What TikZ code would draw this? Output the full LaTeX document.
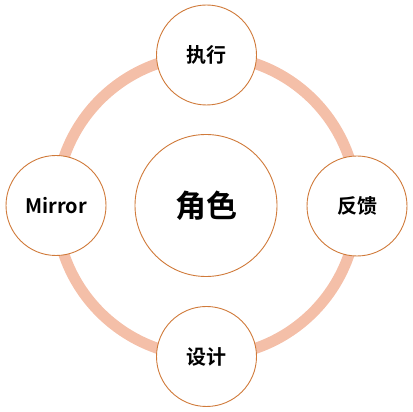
\documentclass[tikz,border=0pt]{standalone}
\usepackage{fontspec}
\setmainfont{Noto Sans CJK SC}[BoldFont={* Bold}]
\definecolor{ringc}{HTML}{F4BFA8}
\definecolor{edgec}{HTML}{D07A3A}
\begin{document}
\begin{tikzpicture}[x=1pt,y=1pt,
  small/.style={circle,draw=edgec,line width=0.9pt,fill=white,minimum size=100pt,inner sep=0pt,font=\fontsize{20}{24}\selectfont\bfseries},
  big/.style={circle,draw=edgec,line width=0.9pt,fill=white,minimum size=142pt,inner sep=0pt,font=\fontsize{31}{36}\selectfont\bfseries}]
\useasboundingbox (0,0) rectangle (412,412);
\coordinate (c) at (206.5,206);
\draw[ringc,line width=11pt] (c) circle[radius=150.5];
\node[big] (role) at (206,206.5) {角色};
\node[small] (exec) at (206.5,357) {执行};
\node[small] (fb) at (357,206) {反馈};
\node[small] (design) at (206.5,55.5) {设计};
\node[small] (mirror) at (56,206.5) {Mirror};
\end{tikzpicture}
\end{document}
